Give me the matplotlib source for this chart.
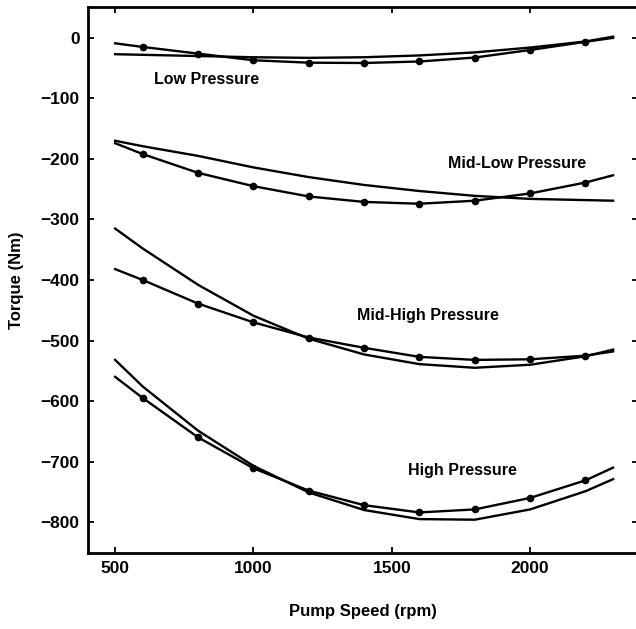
#!/usr/bin/env python3
import matplotlib

matplotlib.use("Agg")
import matplotlib.pyplot as plt

# pump speed grid (rpm)
speed = [500, 600, 800, 1000, 1200, 1400, 1600, 1800, 2000, 2200, 2300]
fit_speed = [500, 600, 800, 1000, 1200, 1400, 1600, 1800, 2000, 2200, 2300]

# measured torque (Nm), dots drawn at the inner points only
low_meas = [-9, -15, -26, -37, -41, -41.5, -39, -32.5, -20, -6.5, 0]
midlow_meas = [-174, -192, -223, -245, -262, -271, -274, -269, -257, -239, -227]
midhigh_meas = [-382, -400, -439, -470, -495, -512, -527, -532, -531, -525, -518]
high_meas = [-560, -595, -660, -711, -748, -772, -784, -779, -760, -731, -710]

# fitted torque (Nm)
low_fit = [-27, -28, -30, -32, -33, -32, -29, -24, -16, -6, 2]
midlow_fit = [-170, -179, -195, -214, -230, -243, -253, -261, -266, -268, -269]
midhigh_fit = [-315, -348, -408, -459, -497, -523, -539, -545, -540, -526, -515]
high_fit = [-532, -576, -649, -707, -751, -780, -795, -796, -779, -749, -729]

labels = ["Low Pressure", "Mid-Low Pressure", "Mid-High Pressure", "High Pressure"]
label_pos = [(832, -68), (1952, -208), (1631, -459), (1757, -714)]

plt.rcParams["font.family"] = ["Liberation Sans", "DejaVu Sans"]

fig = plt.figure(figsize=(6.36, 6.29), dpi=100)
ax = fig.add_axes([88 / 636, 76 / 629, 550 / 636, 546 / 629])

for meas, fit in [(low_meas, low_fit), (midlow_meas, midlow_fit),
                  (midhigh_meas, midhigh_fit), (high_meas, high_fit)]:
    ax.plot(speed, meas, color="black", linewidth=1.7)
    ax.plot(speed[1:-1], meas[1:-1], "o", color="black", markersize=4.5)
    ax.plot(fit_speed, fit, color="black", linewidth=1.7)

for text, (x, y) in zip(labels, label_pos):
    ax.text(x, y, text, ha="center", va="center", fontsize=11.5, fontweight="bold")

ax.set_xlim(402, 2390)
ax.set_ylim(-851, 51)
yticks = [0, -100, -200, -300, -400, -500, -600, -700, -800]
ax.set_xticks([500, 1000, 1500, 2000])
ax.set_yticks(yticks)
ax.set_yticklabels([str(v).replace("-", "\u2212") for v in yticks])
ax.tick_params(direction="in", length=4, width=1.3, top=True, right=True,
               labelsize=12.5, pad=6)
for lab in ax.get_xticklabels() + ax.get_yticklabels():
    lab.set_fontweight("bold")
for side in ax.spines.values():
    side.set_linewidth(2)

ax.set_xlabel("Pump Speed (rpm)", fontsize=12, fontweight="bold", labelpad=20)
ax.set_ylabel("Torque (Nm)", fontsize=12, fontweight="bold", labelpad=12)

fig.savefig("out.png", dpi=100)
